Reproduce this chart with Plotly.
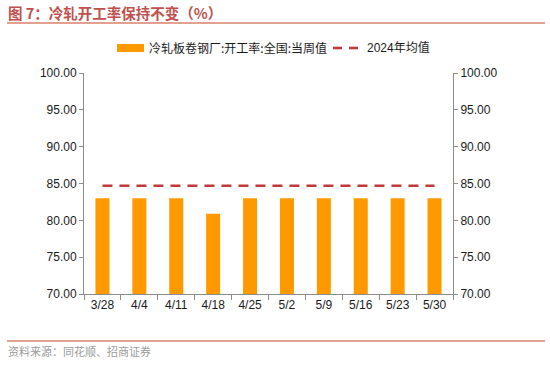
import plotly.graph_objects as go

# ---- data ----
dates = ["3/28", "4/4", "4/11", "4/18", "4/25", "5/2", "5/9", "5/16", "5/23", "5/30"]
weekly_rate = [83.0, 83.0, 83.0, 80.9, 83.0, 83.0, 83.0, 83.0, 83.0, 83.0]
avg_2024 = 84.7
avg_line = [avg_2024 for _ in dates]
y_ticks = [70, 75, 80, 85, 90, 95, 100]

title_text = "图 7：冷轧开工率保持不变（%）"
bar_name = "冷轧板卷钢厂:开工率:全国:当周值"
line_name = "2024年均值"
source_text = "资料来源：同花顺、招商证券"

# ---- layout constants ----
W, H = 550, 389
ML, MR, MT, MB = 84, 97, 73, 95
PW = W - ML - MR
PH = H - MT - MB

def px(x):
    return (x - ML) / PW

def py(y):
    return 1 - (y - MT) / PH

CJK = "Noto Sans CJK SC"
LAT = "Liberation Sans, Arial, sans-serif"
AX = "#8c8c8c"
BAR = "#FF9900"
RED = "#C0393B"

fig = go.Figure()
fig.add_trace(go.Bar(x=dates, y=weekly_rate, marker=dict(color=BAR, line=dict(width=0)),
                     name=bar_name, showlegend=False))
fig.add_trace(go.Scatter(x=dates, y=avg_line, mode="lines", yaxis="y2",
                         line=dict(color=RED, width=2.6, dash="10px,7px"),
                         name=line_name, showlegend=False))

axis_common = dict(range=[70, 100], tickvals=y_ticks, tickformat=".2f",
                   showgrid=False, zeroline=False, showline=True, linecolor=AX, linewidth=1,
                   ticks="outside", ticklen=4, tickcolor=AX,
                   tickfont=dict(family=LAT, size=12, color="#1a1a1a"))

fig.update_layout(
    width=W, height=H,
    margin=dict(l=ML, r=MR, t=MT, b=MB),
    paper_bgcolor="white", plot_bgcolor="white",
    bargap=0.62,
    xaxis=dict(type="category", tickson="boundaries", ticks="outside", ticklen=5,
               tickcolor=AX, showline=True, linecolor=AX, linewidth=1, showgrid=False,
               tickfont=dict(family=LAT, size=12, color="#1a1a1a")),
    yaxis=dict(**axis_common),
    yaxis2=dict(**axis_common, overlaying="y", side="right"),
    showlegend=False,
)

shapes = [
    # title underline
    dict(type="line", xref="paper", yref="paper", x0=px(7), x1=px(545), y0=py(23), y1=py(23),
         line=dict(color="#D9826A", width=1.5)),
    # bottom line
    dict(type="line", xref="paper", yref="paper", x0=px(7), x1=px(545), y0=py(341), y1=py(341),
         line=dict(color="#D9826A", width=1.5)),
    # legend bar swatch
    dict(type="rect", xref="paper", yref="paper", x0=px(117), x1=px(144), y0=py(52), y1=py(44),
         fillcolor=BAR, line=dict(width=0)),
    # legend dashed line swatch
    dict(type="line", xref="paper", yref="paper", x0=px(333), x1=px(342), y0=py(48), y1=py(48),
         line=dict(color=RED, width=2.6)),
    dict(type="line", xref="paper", yref="paper", x0=px(349), x1=px(358), y0=py(48), y1=py(48),
         line=dict(color=RED, width=2.6)),
]

annotations = [
    dict(text=f"<b>{title_text}</b>", xref="paper", yref="paper", x=px(6), y=py(12),
         xanchor="left", yanchor="middle", showarrow=False,
         font=dict(family=CJK, size=14.5, color="#C0504D")),
    dict(text=bar_name, xref="paper", yref="paper", x=px(147), y=py(48),
         xanchor="left", yanchor="middle", showarrow=False,
         font=dict(family=CJK + ", " + LAT, size=12, color="#1a1a1a")),
    dict(text=line_name, xref="paper", yref="paper", x=px(365), y=py(48),
         xanchor="left", yanchor="middle", showarrow=False,
         font=dict(family=LAT + ", " + CJK, size=12, color="#1a1a1a")),
    dict(text=source_text, xref="paper", yref="paper", x=px(6), y=py(351),
         xanchor="left", yanchor="middle", showarrow=False,
         font=dict(family=CJK, size=11, color="#9a9a9a")),
]

fig.update_layout(shapes=shapes, annotations=annotations)
fig.write_html("out.html", config={"displayModeBar": False},
               post_script="document.body.style.margin='0';")
